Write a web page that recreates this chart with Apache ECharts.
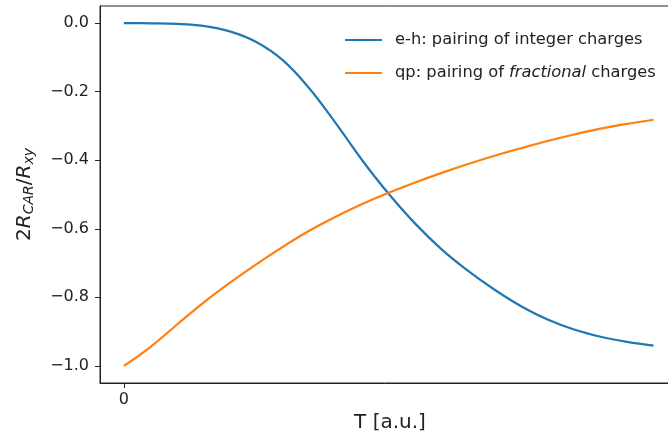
<!DOCTYPE html>
<html>
<head>
<meta charset="utf-8">
<script src="https://cdn.jsdelivr.net/npm/echarts@6/dist/echarts.min.js"></script>
<style>html,body{margin:0;padding:0;background:#fff}#c{width:668px;height:438px}</style>
</head>
<body>
<div id="c"></div>
<script>
const T = [0, 0.05, 0.10, 0.15, 0.20, 0.25, 0.30, 0.35, 0.40, 0.45, 0.50, 0.55, 0.60, 0.65, 0.70, 0.75, 0.80, 0.85, 0.90, 0.95, 1.00];
const ehValues = [0, -0.0005, -0.002, -0.008, -0.024, -0.055, -0.108, -0.190, -0.292, -0.400, -0.498, -0.585, -0.660, -0.723, -0.778, -0.826, -0.865, -0.894, -0.915, -0.930, -0.941];
const qpValues = [-1.0, -0.945, -0.880, -0.816, -0.758, -0.704, -0.653, -0.606, -0.565, -0.528, -0.495, -0.465, -0.437, -0.411, -0.387, -0.365, -0.344, -0.325, -0.308, -0.294, -0.282];
const seriesNames = ['e-h: pairing of integer charges', 'qp: pairing of fractional charges'];
const yTicks = [-1.0, -0.8, -0.6, -0.4, -0.2, 0.0];
const xTicks = [0];

const chart = echarts.init(document.getElementById('c'), null, {renderer: 'canvas'});
const txt = '#222';
const font = 'DejaVu Sans';
function pairs(vals) { return T.map((t, i) => [t, vals[i]]); }

chart.setOption({
  animation: false,
  backgroundColor: '#fff',
  grid: {left: 100, top: 6, width: 580, bottom: 55, outerBoundsMode: 'none', containLabel: false,
    show: true, borderColor: txt, borderWidth: 1, backgroundColor: 'transparent'},
  legend: {
    orient: 'vertical', left: 345, top: 30, padding: 0,
    icon: 'rect', itemWidth: 37, itemHeight: 2, itemGap: 13,
    textStyle: {fontFamily: font, fontSize: 16.3, lineHeight: 20, color: txt, padding: [0, 0, 0, 8],
      rich: {i: {fontFamily: font, fontSize: 16.3, lineHeight: 20, color: txt, fontStyle: 'italic'}}},
    formatter: n => n.replace('fractional', '{i|fractional}'),
    data: seriesNames
  },
  xAxis: {
    type: 'value', min: -0.045, max: 1.05,
    name: 'T [a.u.]', nameLocation: 'middle', nameGap: 25,
    nameTextStyle: {fontFamily: font, fontSize: 20, color: txt},
    axisLine: {show: true, onZero: false, lineStyle: {color: txt, width: 1}},
    axisTick: {show: true, length: 5, customValues: xTicks, lineStyle: {color: txt}},
    axisLabel: {customValues: xTicks, margin: 9, fontFamily: font, fontSize: 16, color: txt},
    splitLine: {show: false}
  },
  yAxis: {
    type: 'value', min: -1.05, max: 0.05,
    name: '{n|2}{i|R}{s|CAR}{n|/}{i|R}{s|xy}', nameLocation: 'middle', nameGap: 64, nameRotate: 90,
    nameTextStyle: {
      fontFamily: font, fontSize: 20, color: txt,
      rich: {
        n: {fontFamily: font, fontSize: 20, color: txt},
        i: {fontFamily: font, fontSize: 20, color: txt, fontStyle: 'italic'},
        s: {fontFamily: font, fontSize: 14, color: txt, fontStyle: 'italic', verticalAlign: 'bottom', padding: [9, 0, 0, 0]}
      }
    },
    axisLine: {show: true, onZero: false, lineStyle: {color: txt, width: 1}},
    axisTick: {show: true, length: 5, customValues: yTicks, lineStyle: {color: txt}},
    axisLabel: {customValues: yTicks, margin: 11, fontFamily: font, fontSize: 16, color: txt,
      formatter: v => (v < -1e-9 ? '\u2212' : '') + Math.abs(v).toFixed(1)},
    splitLine: {show: false}
  },
  series: [
    {name: seriesNames[0], type: 'line', data: pairs(ehValues), smooth: 0.4, symbol: 'none', lineStyle: {color: '#1f77b4', width: 2.2}, itemStyle: {color: '#1f77b4'}},
    {name: seriesNames[1], type: 'line', data: pairs(qpValues), smooth: 0.4, symbol: 'none', lineStyle: {color: '#ff7f0e', width: 2.2}, itemStyle: {color: '#ff7f0e'}}
  ]
});
</script>
</body>
</html>
